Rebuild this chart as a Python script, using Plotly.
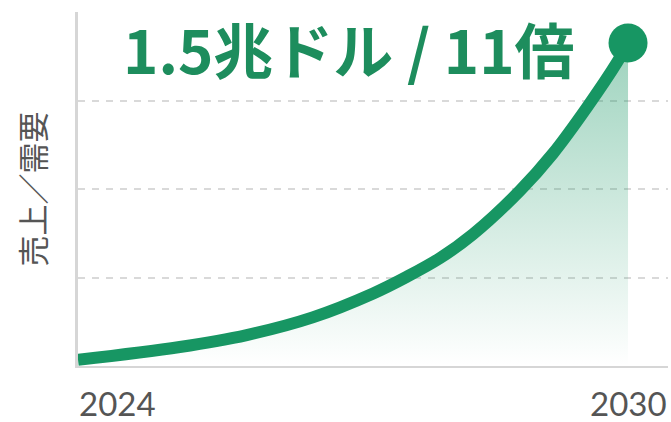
import plotly.graph_objects as go

# Growth curve readings (index units; gridlines at 1, 2, 3)
years = [2024.0, 2025.11, 2025.84, 2026.56, 2027.22, 2027.59, 2027.95,
         2028.31, 2028.82, 2029.18, 2029.55, 2029.88, 2030.0]
values = [0.07, 0.215, 0.35, 0.55, 0.82, 1.01, 1.22,
          1.49, 1.98, 2.40, 2.92, 3.43, 3.65]

end_year = [2030]
end_value = [3.65]

tick_years = [2024, 2030]
tick_labels = ["2024", "2030"]
grid_levels = [1, 2, 3]

headline = "1.5兆ドル / 11倍"
y_title = "売上／需要"

GREEN = "#179663"
TEXT_GREEN = "#1d8d5d"
GRAY_TEXT = "#555555"
AXIS_GRAY = "#d6d6d6"
FONT = "Noto Sans CJK JP"
NUM_FONT = "Lato"

fig = go.Figure()

# Area under the curve with a vertical fade
fig.add_trace(go.Scatter(
    x=years, y=values, mode="lines",
    line=dict(width=0, shape="spline", smoothing=1.0),
    fill="tozeroy",
    fillgradient=dict(
        type="vertical",
        colorscale=[[0, "rgba(23,150,99,0.0)"], [1, "rgba(23,150,99,0.42)"]],
    ),
    hoverinfo="skip", showlegend=False,
))

# Main growth line
fig.add_trace(go.Scatter(
    x=years, y=values, mode="lines",
    line=dict(color=GREEN, width=12, shape="spline", smoothing=1.0),
    showlegend=False,
))

# End point marker
fig.add_trace(go.Scatter(
    x=end_year, y=end_value, mode="markers",
    marker=dict(color=GREEN, size=39),
    cliponaxis=False, showlegend=False,
))

# Year labels: first one starts at its tick, last one centred on it
fig.add_annotation(x=tick_years[0], y=0, xref="x", yref="y",
                   text=tick_labels[0], showarrow=False, borderpad=0,
                   xanchor="left", yanchor="top", yshift=-16,
                   font=dict(family=NUM_FONT, size=33, color=GRAY_TEXT))
fig.add_annotation(x=tick_years[1], y=0, xref="x", yref="y",
                   text=tick_labels[1], showarrow=False, borderpad=0,
                   xanchor="center", yanchor="top", yshift=-16,
                   font=dict(family=NUM_FONT, size=33, color=GRAY_TEXT))

# Headline
fig.add_annotation(x=0.46, y=1.0, xref="paper", yref="paper",
                   text="<b>" + headline + "</b>", showarrow=False,
                   xanchor="center", yanchor="middle", yshift=-35,
                   font=dict(family=FONT, size=60, color=TEXT_GREEN))

fig.update_layout(
    width=671, height=422,
    margin=dict(l=78, r=3, t=12, b=56),
    paper_bgcolor="white", plot_bgcolor="white",
    font=dict(family=FONT),
    xaxis=dict(
        range=[2024, 2030.436], showgrid=False, zeroline=False,
        showticklabels=False, ticks="",
        showline=True, linecolor=AXIS_GRAY, linewidth=2,
        fixedrange=True,
    ),
    yaxis=dict(
        range=[0, 4], tickvals=grid_levels, showticklabels=False, ticks="",
        showgrid=True, gridcolor="#d9d9d9", gridwidth=1.5, griddash="7px,7px",
        zeroline=False, showline=True, linecolor=AXIS_GRAY, linewidth=2.5,
        title=dict(text=y_title, standoff=21,
                   font=dict(family=FONT, size=31, color=GRAY_TEXT)),
        fixedrange=True,
    ),
)

fig.write_html("out.html")
